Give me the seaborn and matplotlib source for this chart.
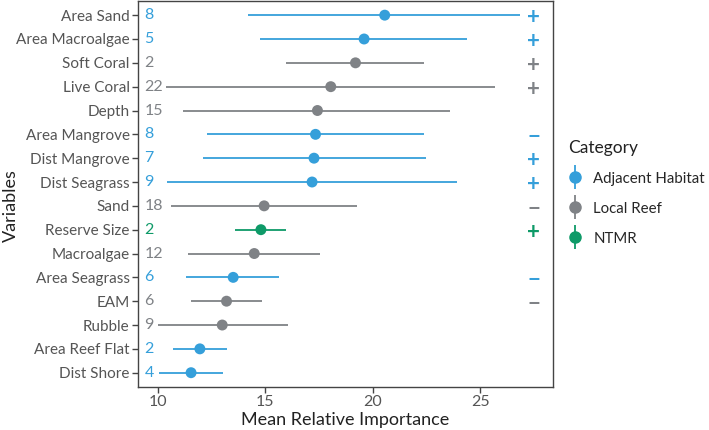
import numpy as np
import pandas as pd
import matplotlib
matplotlib.use("Agg")
import matplotlib.pyplot as plt
import seaborn as sns
from matplotlib.lines import Line2D
from matplotlib.legend_handler import HandlerTuple

variables = ["Area Sand", "Area Macroalgae", "Soft Coral", "Live Coral", "Depth",
             "Area Mangrove", "Dist Mangrove", "Dist Seagrass", "Sand", "Reserve Size",
             "Macroalgae", "Area Seagrass", "EAM", "Rubble", "Area Reef Flat", "Dist Shore"]
category = ["Adjacent Habitat", "Adjacent Habitat", "Local Reef", "Local Reef", "Local Reef",
            "Adjacent Habitat", "Adjacent Habitat", "Adjacent Habitat", "Local Reef", "NTMR",
            "Local Reef", "Adjacent Habitat", "Local Reef", "Local Reef", "Adjacent Habitat",
            "Adjacent Habitat"]
mean_imp = [20.56, 19.6, 19.2, 18.05, 17.43, 17.34, 17.27, 17.18, 14.95, 14.8,
            14.49, 13.51, 13.2, 13.0, 11.96, 11.55]
low = [14.21, 14.75, 15.95, 10.39, 11.19, 12.28, 12.12, 10.42, 10.6, 13.59,
       11.42, 11.31, 11.53, 10.0, 10.7, 10.06]
high = [26.86, 24.4, 22.38, 25.71, 23.61, 22.4, 22.48, 23.93, 19.29, 15.96,
        17.57, 15.65, 14.86, 16.04, 13.23, 13.05]
counts = [8, 5, 2, 22, 15, 8, 7, 9, 18, 2, 12, 6, 6, 9, 2, 4]
signs = ["+", "+", "+", "+", "", "\u2212", "+", "+", "\u2212", "+", "", "\u2212", "\u2212", "", "", ""]

df = pd.DataFrame({"Variable": variables, "Category": category, "Mean": mean_imp,
                   "Low": low, "High": high, "n": counts, "sign": signs})

palette = {"Adjacent Habitat": "#359FDA", "Local Reef": "#7F8286", "NTMR": "#0E9A68"}

sns.set_style("white")
plt.rcParams["font.family"] = ["Lato", "DejaVu Sans"]

fig = plt.figure(figsize=(7.09, 4.30), dpi=100)
ax = fig.add_axes([0.1946, 0.1, 0.5854, 0.898])

ypos = np.arange(len(df))
ax.hlines(ypos, df["Low"], df["High"], colors=[palette[c] for c in df["Category"]], lw=1.3, zorder=1)
sns.scatterplot(data=df, x="Mean", y="Variable", hue="Category", palette=palette,
                s=62, edgecolor="none", ax=ax, zorder=2, legend=False)

for i, row in df.iterrows():
    col = palette[row["Category"]]
    ax.text(9.38, i, str(row["n"]), color=col, fontsize=11.5, ha="left", va="center")
    if row["sign"]:
        ax.text(27.5, i + 0.1, row["sign"], color=col, fontsize=16, fontweight="bold",
                ha="center", va="center")

ax.set_xlim(9.08, 28.39)
ax.set_ylim(15.6, -0.6)
ax.set_xticks([10, 15, 20, 25])
ax.set_xlabel("Mean Relative Importance", fontsize=13, color="#222222", labelpad=2)
ax.set_ylabel("Variables", fontsize=13, color="#222222")
ax.yaxis.set_label_coords(-0.286, 0.47)
ax.tick_params(axis="both", direction="out", length=4, width=1, color="#444444",
               labelcolor="#555555", labelsize=11, left=True, bottom=True, pad=2)
ax.tick_params(axis="x", labelsize=11.5)
for sp in ax.spines.values():
    sp.set_color("#444444")
    sp.set_linewidth(1)

handles = []
for cat in ["Adjacent Habitat", "Local Reef", "NTMR"]:
    bar = Line2D([], [], marker="|", markersize=17, markeredgewidth=1.3, color=palette[cat], linestyle="none")
    dot = Line2D([], [], marker="o", markersize=8, color=palette[cat], linestyle="none")
    handles.append((bar, dot))
leg = ax.legend(handles, ["Adjacent Habitat", "Local Reef", "NTMR"], title="Category",
                handler_map={tuple: HandlerTuple(ndivide=1, pad=0)},
                loc="upper left", bbox_to_anchor=(1.01, 0.668), frameon=False,
                fontsize=10.8, title_fontsize=12.5, handlelength=1.0, handletextpad=0.7,
                labelspacing=1.07, alignment="left", borderpad=0.2)
leg.get_title().set_color("#222222")

fig.savefig("out.png", dpi=100)
